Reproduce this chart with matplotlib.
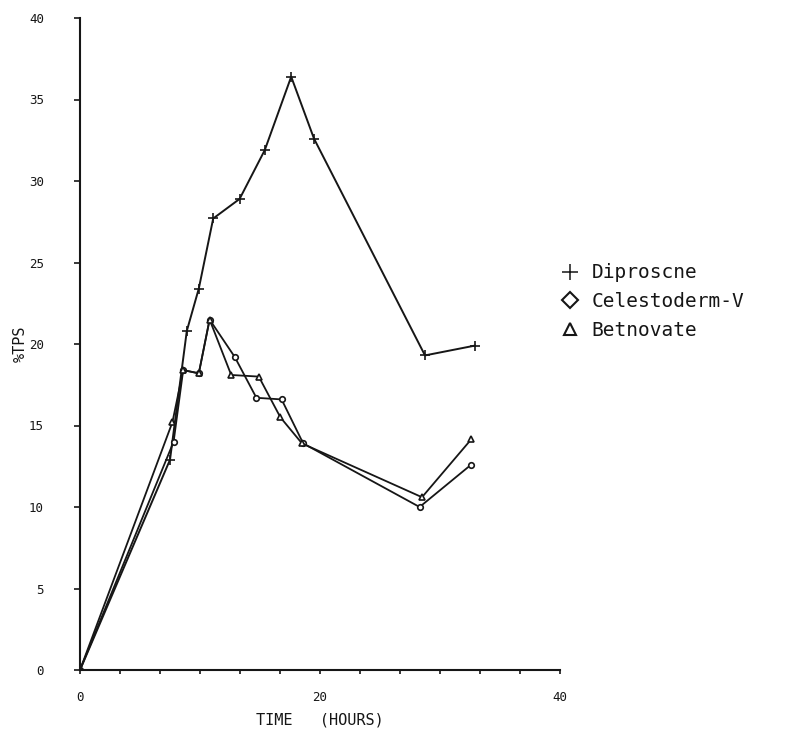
import numpy as np
import matplotlib
matplotlib.use("Agg")
import matplotlib.pyplot as plt
from matplotlib.lines import Line2D

# time (hours) / %TPS
dip_t = [0, 7.5, 8.9, 9.9, 11.1, 13.3, 15.4, 17.6, 19.5, 28.75, 32.9]
dip_y = [0, 12.9, 20.8, 23.4, 27.7, 28.9, 31.9, 36.4, 32.6, 19.3, 19.9]

cel_t = [0, 7.8, 8.6, 9.9, 10.8, 12.9, 14.7, 16.8, 18.6, 28.3, 32.6]
cel_y = [0, 14.0, 18.4, 18.2, 21.5, 19.2, 16.7, 16.6, 13.9, 10.0, 12.6]

bet_t = [0, 7.7, 8.6, 9.9, 10.8, 12.6, 14.9, 16.7, 18.5, 28.5, 32.6]
bet_y = [0, 15.2, 18.4, 18.2, 21.5, 18.1, 18.0, 15.5, 13.9, 10.6, 14.15]

labels = ['Diproscne', 'Celestoderm-V', 'Betnovate']
xticks = np.linspace(0, 40, 13)
xticklabels = ['0' if v == 0 else ('20' if v == 20 else ('40' if v == 40 else '')) for v in xticks]
yticks = [0, 5, 10, 15, 20, 25, 30, 35, 40]
yticklabels = ['0', '5', '10', '15', '20', '25', '30', '35', '40']

ink = '#161616'
mono = ['DejaVu Sans Mono']

fig = plt.figure(figsize=(8.03, 7.40), dpi=100)
ax = fig.add_axes([80/803, 70/740, 480/803, 652/740])

ax.plot(dip_t, dip_y, color=ink, lw=1.4, marker='+', ms=7, mew=1.2)
ax.plot(cel_t, cel_y, color=ink, lw=1.3, marker='o', ms=4, mfc='white', mew=1.2)
ax.plot(bet_t, bet_y, color=ink, lw=1.3, marker='^', ms=4, mfc='white', mew=1.2)

ax.set_xlim(0, 40)
ax.set_ylim(0, 40)
for s in ['top', 'right']:
    ax.spines[s].set_visible(False)
for s in ['left', 'bottom']:
    ax.spines[s].set_linewidth(1.5)
    ax.spines[s].set_color(ink)

ax.set_xticks(xticks)
ax.set_xticklabels(xticklabels, family=mono, fontsize=9, color=ink)
ax.set_yticks(yticks)
ax.set_yticklabels(yticklabels, family=mono, fontsize=9, color=ink)
ax.tick_params(axis='x', direction='out', length=3, width=1.2, pad=12, colors=ink)
ax.tick_params(axis='y', direction='out', length=4, width=1.2, pad=22, colors=ink)

ax.set_xlabel('TIME   (HOURS)', family=mono, fontsize=11, color=ink, labelpad=6)
ax.set_ylabel('%TPS', family=mono, fontsize=11, color=ink)
ax.yaxis.set_label_coords(-0.108, 0.5)

handles = [
    Line2D([], [], ls='none', marker='+', ms=11, mew=1.1, color=ink),
    Line2D([], [], ls='none', marker='D', ms=8, mfc='white', mew=1.5, color=ink),
    Line2D([], [], ls='none', marker='^', ms=9, mfc='white', mew=1.5, color=ink),
]
leg = fig.legend(handles, labels, loc='upper left', bbox_to_anchor=(543/803, 1 - 246/740),
                 frameon=False, prop={'family': mono, 'size': 14},
                 handlelength=1.0, handletextpad=0.6, labelspacing=0.5)
for t in leg.get_texts():
    t.set_color(ink)

fig.savefig('out.png', dpi=100, facecolor='white')
